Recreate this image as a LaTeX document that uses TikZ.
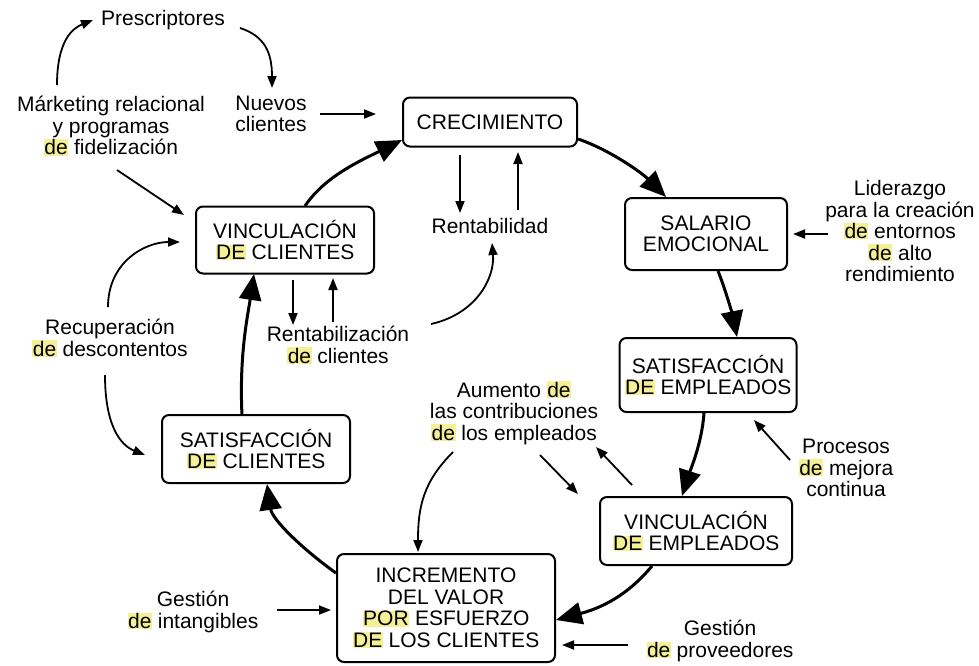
\documentclass[tikz,border=0pt]{standalone}
\usepackage{fontspec}
\setmainfont{Liberation Sans}
\usetikzlibrary{arrows.meta}
\definecolor{hlyellow}{RGB}{245,240,150}
\newcommand{\hl}[1]{{\setlength{\fboxsep}{0.5pt}\colorbox{hlyellow}{#1}}}

\begin{document}
\begin{tikzpicture}[x=1pt, y=-1pt,
    every node/.style={font=\fontsize{21}{21.5}\selectfont, align=center, inner sep=0pt},
    box/.style={draw, line width=2pt, rounded corners=7pt},
    cyc/.style={line width=3pt, -{Triangle[length=26pt, width=22pt]}},
    arr/.style={line width=1.8pt, -{Triangle[length=12pt, width=9pt]}}]
    \useasboundingbox (0,0) rectangle (979,665);

    % Nodes
    \node (crec) at (490, 122)[box, minimum width=174pt, minimum height=49pt] {CRECIMIENTO};
    \node (salario) at (706, 234)[box, minimum width=162pt, minimum height=72pt] {SALARIO\\EMOCIONAL};
    \node (satemp) at (708, 375)[box, minimum width=177pt, minimum height=74pt] {SATISFACCIÓN\\\hl{DE} EMPLEADOS};
    \node (vincemp) at (696, 531)[box, minimum width=192pt, minimum height=68pt] {VINCULACIÓN\\\hl{DE} EMPLEADOS};
    \node (incr) at (446, 608)[box, minimum width=218pt, minimum height=108pt] {INCREMENTO\\DEL VALOR\\\hl{POR} ESFUERZO\\\hl{DE} LOS CLIENTES};
    \node (satcli) at (256, 449)[box, minimum width=188pt, minimum height=68pt] {SATISFACCIÓN\\\hl{DE} CLIENTES};
    \node (vinccli) at (285, 240)[box, minimum width=178pt, minimum height=67pt] {VINCULACIÓN\\\hl{DE} CLIENTES};

    % labels
    \node (presc) at (163, 20) {Prescriptores};
    \node (mkt) at (111, 126) {Márketing relacional\\y programas\\\hl{de} fidelización};
    \node (nuevos) at (271, 114) {Nuevos\\clientes};
    \node (rentab) at (490, 226) {Rentabilidad};
    \node (rentcli) at (338, 345) {Rentabilización\\\hl{de} clientes};
    \node (recup) at (110, 338) {Recuperación\\\hl{de} descontentos};
    \node (lider) at (900, 231) {Liderazgo\\para la creación\\\hl{de} entornos\\\hl{de} alto\\rendimiento};
    \node (aumento) at (514, 413) {Aumento \hl{de}\\las contribuciones\\\hl{de} los empleados};
    \node (procesos) at (846, 468) {Procesos\\\hl{de} mejora\\continua};
    \node (gint) at (193, 612) {Gestión\\\hl{de} intangibles};
    \node (gprov) at (720, 641) {Gestión\\\hl{de} proveedores};

    % cycle
    \draw[cyc] ([shift={(20,-34)}]vinccli.center) .. controls +(20,-30) and +(-40,20) .. ([shift={(-88,18)}]crec.center);
    \draw[cyc] ([shift={(88,17)}]crec.center) .. controls +(30,10) and +(-25,-25) .. ([shift={(-40,-37)}]salario.center);
    \draw[cyc] ([shift={(12,37)}]salario.center) .. controls +(8,20) and +(-4,-20) .. ([shift={(29,-38)}]satemp.center);
    \draw[cyc] ([shift={(-4,38)}]satemp.center) .. controls +(-2,30) and +(8,-25) .. ([shift={(-14,-35)}]vincemp.center);
    \draw[cyc] ([shift={(-44,35)}]vincemp.center) .. controls +(-25,30) and +(45,-12) .. ([shift={(110,12)}]incr.center);
    \draw[cyc] ([shift={(-110,-35)}]incr.center) .. controls +(-35,-25) and +(5,35) .. ([shift={(11,35)}]satcli.center);
    \draw[cyc] ([shift={(-14,-34)}]satcli.center) .. controls +(-3,-60) and +(-6,40) .. ([shift={(-31,34)}]vinccli.center);

    % curved edges
    \draw[arr] ([shift={(77,8)}]presc.center) .. controls +(25,8) and +(0,-35) .. ([shift={(1,-26)}]nuevos.center);
    \draw[arr] ([shift={(-54,-41)}]mkt.center) .. controls +(0,-45) and +(-20,8) .. ([shift={(-70,0)}]presc.center);
    \draw[arr] ([shift={(-2,-31)}]recup.center) .. controls +(0,-45) and +(-35,0) .. ([shift={(-105,2)}]vinccli.center);
    \draw[arr] ([shift={(-5,37)}]recup.center) .. controls +(0,50) and +(-25,-10) .. ([shift={(-111,6)}]satcli.center);
    \draw[arr] ([shift={(93,-21)}]rentcli.center) .. controls +(45,-10) and +(3,35) .. ([shift={(2,17)}]rentab.center);
    \draw[arr] ([shift={(-61,39)}]aumento.center) .. controls +(-30,30) and +(0,-45) .. ([shift={(-28,-56)}]incr.center);

    % edges
    \path[arr]
        ([shift={(49,0)}]nuevos.center) edge ([shift={(-114,-8)}]crec.center)
        ([shift={(6,44)}]mkt.center) edge ([shift={(-101,-25)}]vinccli.center)
        ([shift={(-30,33)}]crec.center) edge ([shift={(-30,-13)}]rentab.center)
        ([shift={(28,-16)}]rentab.center) edge ([shift={(28,30)}]crec.center)
        ([shift={(8,40)}]vinccli.center) edge ([shift={(-45,-20)}]rentcli.center)
        ([shift={(-5,-23)}]rentcli.center) edge ([shift={(48,38)}]vinccli.center)
        ([shift={(-72,3)}]lider.center) edge ([shift={(87,0)}]salario.center)
        ([shift={(26,42)}]aumento.center) edge ([shift={(-118,-37)}]vincemp.center)
        ([shift={(-64,-46)}]vincemp.center) edge ([shift={(82,34)}]aumento.center)
        ([shift={(-56,-8)}]procesos.center) edge ([shift={(46,45)}]satemp.center)
        ([shift={(84,-2)}]gint.center) edge ([shift={(-115,2)}]incr.center)
        ([shift={(-92,4)}]gprov.center) edge ([shift={(116,37)}]incr.center);

\end{tikzpicture}
\end{document}
